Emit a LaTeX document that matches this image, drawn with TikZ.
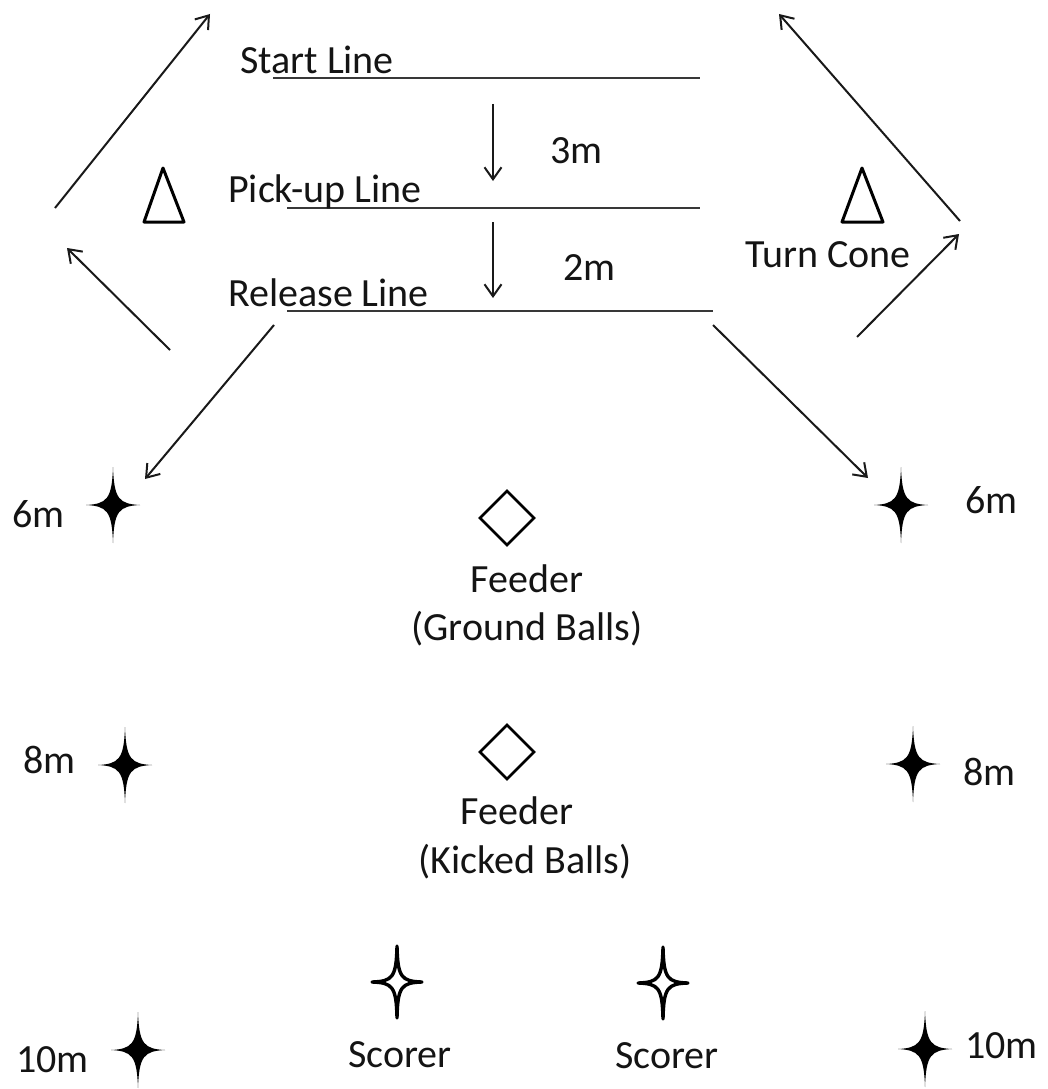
\documentclass[tikz,border=0pt]{standalone}
\usepackage{fontspec}
\setmainfont{Carlito}
\usetikzlibrary{arrows.meta}
\begin{document}
\begin{tikzpicture}[x=1pt,y=-1pt,
  lbl/.style={inner sep=0pt, font=\fontsize{40}{48}\selectfont, text=black!92},
  markline/.style={line width=2.6pt, draw=black!78},
  run/.style={line width=2pt, draw=black!90, -{Straight Barb[length=12pt,width=17pt]}},
  cone/.style={line width=3pt, line join=round, draw=black},
  feeder/.style={line width=2.8pt, draw=black},
  pics/solidstar/.style={code={
    \fill[black] (0,-38) .. controls (1.1,-6) and (6,-1.1) .. (27,0)
      .. controls (6,1.1) and (1.1,6) .. (0,38)
      .. controls (-1.1,6) and (-6,1.1) .. (-27,0)
      .. controls (-6,-1.1) and (-1.1,-6) .. cycle;}},
  pics/hollowstar/.style={code={
    \filldraw[fill=white, draw=black, line width=3.4pt, line join=round]
      (0,-36) .. controls (0.7,-4.5) and (4.5,-0.7) .. (25,0)
      .. controls (4.5,0.7) and (0.7,4.5) .. (0,36)
      .. controls (-0.7,4.5) and (-4.5,0.7) .. (-25,0)
      .. controls (-4.5,-0.7) and (-0.7,-4.5) .. cycle;}}
]
\useasboundingbox[fill=white] (0,0) rectangle (1048,1089);

% marked lines
\coordinate (startA) at (273,78);   \coordinate (startB) at (700,78);
\coordinate (pickA) at (287,208);   \coordinate (pickB) at (700,208);
\coordinate (relA) at (287,311);    \coordinate (relB) at (713,311);
\draw[markline] (startA) -- (startB);
\draw[markline] (pickA) -- (pickB);
\draw[markline] (relA) -- (relB);

\node[lbl, anchor=base west] (startlbl) at (240,74) {Start Line};
\node[lbl, anchor=base west] (picklbl) at (228,202) {Pick-up Line};
\node[lbl, anchor=base west] (rellbl) at (228,306) {Release Line};

% distances between lines
\coordinate (v1s) at (493,104); \coordinate (v1e) at (493,181);
\coordinate (v2s) at (493,222); \coordinate (v2e) at (493,298);
\draw[run] (v1s) -- (v1e);
\draw[run] (v2s) -- (v2e);
\node[lbl, anchor=base west] (d3) at (550,163) {3m};
\node[lbl, anchor=base west] (d2) at (563,280) {2m};

% turn cones
\draw[cone] (163,168) -- (184,222) -- (144,222) -- cycle;
\draw[cone] (862,168) -- (883,222) -- (842,222) -- cycle;
\node[lbl, anchor=base west] (turn) at (745,267) {Turn Cone};

% running paths
\coordinate (l1s) at (55,208);  \coordinate (l1e) at (210,14);
\coordinate (l2s) at (170,350); \coordinate (l2e) at (67,248);
\coordinate (r1s) at (960,221); \coordinate (r1e) at (779,14);
\coordinate (r2s) at (857,337); \coordinate (r2e) at (959,234);
\coordinate (d1s) at (274,325); \coordinate (d1e) at (145,479);
\coordinate (d2s) at (713,325); \coordinate (d2e) at (868,478);
\draw[run] (l1s) -- (l1e);
\draw[run] (l2s) -- (l2e);
\draw[run] (r1s) -- (r1e);
\draw[run] (r2s) -- (r2e);
\draw[run] (d1s) -- (d1e);
\draw[run] (d2s) -- (d2e);

% distance markers
\pic at (113,505) {solidstar};
\pic at (901,505) {solidstar};
\pic at (125,765) {solidstar};
\pic at (913,764) {solidstar};
\pic at (138,1050) {solidstar};
\pic at (925,1049) {solidstar};
\node[lbl, anchor=base west] (m6l) at (12,527) {6m};
\node[lbl, anchor=base west] (m6r) at (965,513) {6m};
\node[lbl, anchor=base west] (m8l) at (23,773) {8m};
\node[lbl, anchor=base west] (m8r) at (963,785) {8m};
\node[lbl, anchor=base west] (m10l) at (16,1072) {10m};
\node[lbl, anchor=base west] (m10r) at (965,1058) {10m};

% feeders
\draw[feeder] (507,491) -- (534,518) -- (507,545) -- (480,518) -- cycle;
\draw[feeder] (507,725) -- (534,752) -- (507,779) -- (480,752) -- cycle;
\node[lbl, anchor=base] (f1) at (527,592) {Feeder};
\node[lbl, anchor=base] (f1b) at (527,640) {(Ground Balls)};
\node[lbl, anchor=base] (f2) at (517,824) {Feeder};
\node[lbl, anchor=base] (f2b) at (525,873) {(Kicked Balls)};

% scorers
\pic at (397,982) {hollowstar};
\pic at (663,983) {hollowstar};
\node[lbl, anchor=base west] (s1) at (348,1067) {Scorer};
\node[lbl, anchor=base west] (s2) at (615,1068) {Scorer};
\end{tikzpicture}
\end{document}
